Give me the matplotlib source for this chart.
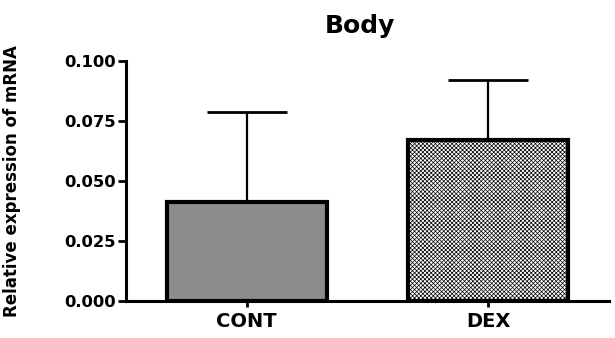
import matplotlib
matplotlib.use("Agg")
import matplotlib.pyplot as plt

groups = ["CONT", "DEX"]
means = [0.0413, 0.0671]
upper_err = [0.0375, 0.0250]
yticks = [0.000, 0.025, 0.050, 0.075, 0.100]
ytick_labels = ["0.000", "0.025", "0.050", "0.075", "0.100"]

plt.rcParams["font.family"] = "DejaVu Sans"
plt.rcParams["font.weight"] = "bold"
plt.rcParams["hatch.linewidth"] = 0.5

fig = plt.figure(figsize=(6.15, 3.38), dpi=100)
ax = fig.add_axes([0.205, 0.1095, 0.785, 0.71])

x = list(range(len(groups)))
ax.errorbar(x, means, yerr=[[0, 0], upper_err], fmt="none", ecolor="black",
            elinewidth=1.6, capsize=29, capthick=2.0, zorder=1)
bars = ax.bar(x, means, width=0.665, color=["#8c8c8c", "white"],
              edgecolor="black", linewidth=3.0, zorder=2)
bars[1].set_hatch("xxxxxxxx")

ax.set_xlim(-0.5, 1.5)
ax.set_ylim(0, 0.1)
ax.set_yticks(yticks)
ax.set_yticklabels(ytick_labels, fontsize=11.8, fontweight="bold")
ax.set_xticks(x)
ax.set_xticklabels(groups, fontsize=14, fontweight="bold")
ax.set_ylabel("Relative expression of mRNA", fontsize=12, fontweight="bold")
ax.yaxis.set_label_coords(-0.218, 0.5)
ax.set_title("Body", fontsize=18, fontweight="bold", pad=20, x=0.485)

for s in ["top", "right"]:
    ax.spines[s].set_visible(False)
for s in ["left", "bottom"]:
    ax.spines[s].set_linewidth(2.2)
ax.tick_params(axis="y", length=6, width=2, pad=1.5)
ax.tick_params(axis="x", length=4, width=2, pad=4)

fig.savefig("out.png", dpi=100)
